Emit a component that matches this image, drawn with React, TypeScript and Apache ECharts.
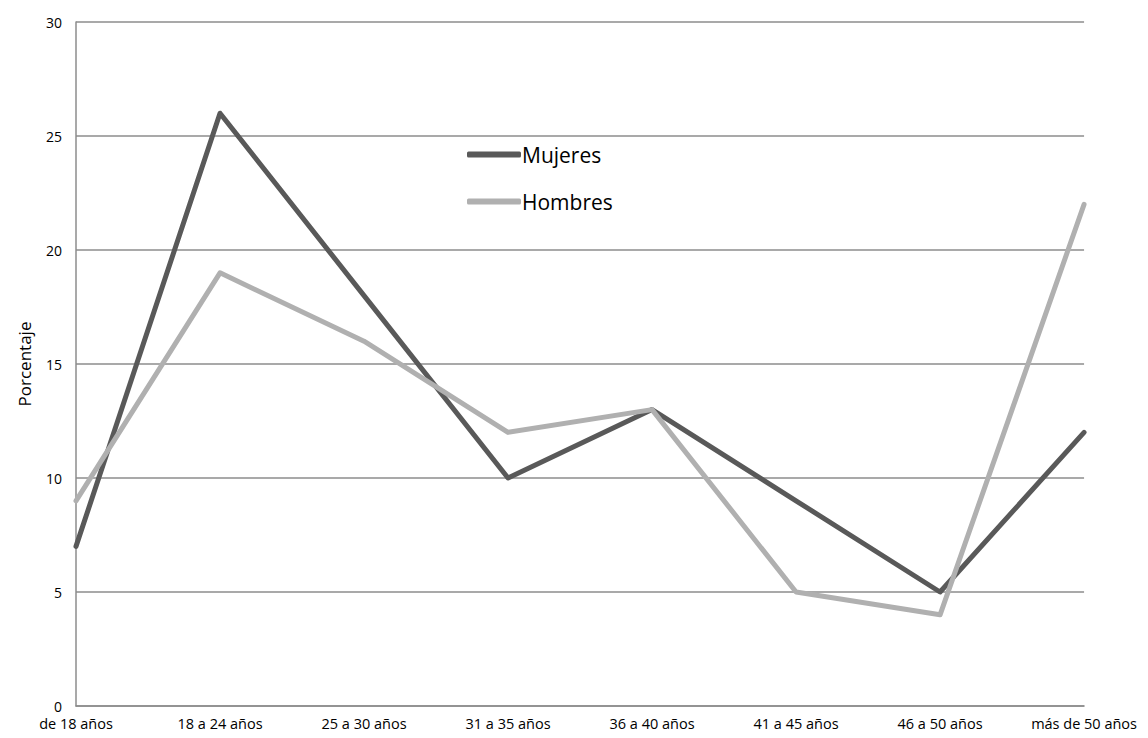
import React, { useEffect, useRef } from "react";
import * as echarts from "echarts";

const categories = ["de 18 años", "18 a 24 años", "25 a 30 años", "31 a 35 años", "36 a 40 años", "41 a 45 años", "46 a 50 años", "más de 50 años"];
const mujeres = [7, 26, 18, 10, 13, 9, 5, 12];
const hombres = [9, 19, 16, 12, 13, 5, 4, 22];

const FONT = "'Open Sans', 'Noto Sans', sans-serif";

export default function App() {
  const ref = useRef<HTMLDivElement>(null);
  useEffect(() => {
    if (!ref.current) return;
    const chart = echarts.init(ref.current, null, { renderer: "svg" });
    chart.setOption({
      animation: false,
      backgroundColor: "#ffffff",
      textStyle: { fontFamily: FONT },
      grid: { left: 63, right: 52, top: 14, bottom: 32, containLabel: false },
      legend: {
        orient: "vertical",
        left: 454,
        top: 131,
        itemWidth: 54,
        itemHeight: 6,
        itemGap: 26,
        icon: "roundRect",
        textStyle: { fontSize: 21, color: "#000", fontFamily: FONT, padding: [0, 0, 0, -4] },
        data: ["Mujeres", "Hombres"],
      },
      xAxis: {
        type: "category",
        data: categories,
        boundaryGap: false,
        axisLine: { show: true, lineStyle: { color: "#8c8c8c", width: 1.5 } },
        axisTick: { show: false },
        axisLabel: { color: "#000", fontSize: 14.5, margin: 10, fontFamily: FONT, interval: 0 },
        splitLine: { show: false },
      },
      yAxis: {
        type: "value",
        min: 0,
        max: 30,
        interval: 5,
        name: "Porcentaje",
        nameLocation: "middle",
        nameGap: 43,
        nameRotate: 90,
        nameTextStyle: { color: "#000", fontSize: 17, fontFamily: FONT },
        axisLine: { show: true, lineStyle: { color: "#8c8c8c", width: 1.5 } },
        axisTick: { show: false },
        axisLabel: { color: "#000", fontSize: 14, margin: 14, fontFamily: FONT },
        splitLine: { show: true, lineStyle: { color: "#8c8c8c", width: 1.5 } },
      },
      series: [
        {
          name: "Mujeres",
          type: "line",
          data: mujeres,
          symbol: "none",
          color: "#595959",
          lineStyle: { width: 5, color: "#595959", cap: "round", join: "round" },
        },
        {
          name: "Hombres",
          type: "line",
          data: hombres,
          symbol: "none",
          color: "#b0b0b0",
          lineStyle: { width: 5, color: "#b0b0b0", cap: "round", join: "round" },
        },
      ],
    });
    return () => chart.dispose();
  }, []);
  return <div ref={ref} style={{ width: 1132, height: 730 }} />;
}
